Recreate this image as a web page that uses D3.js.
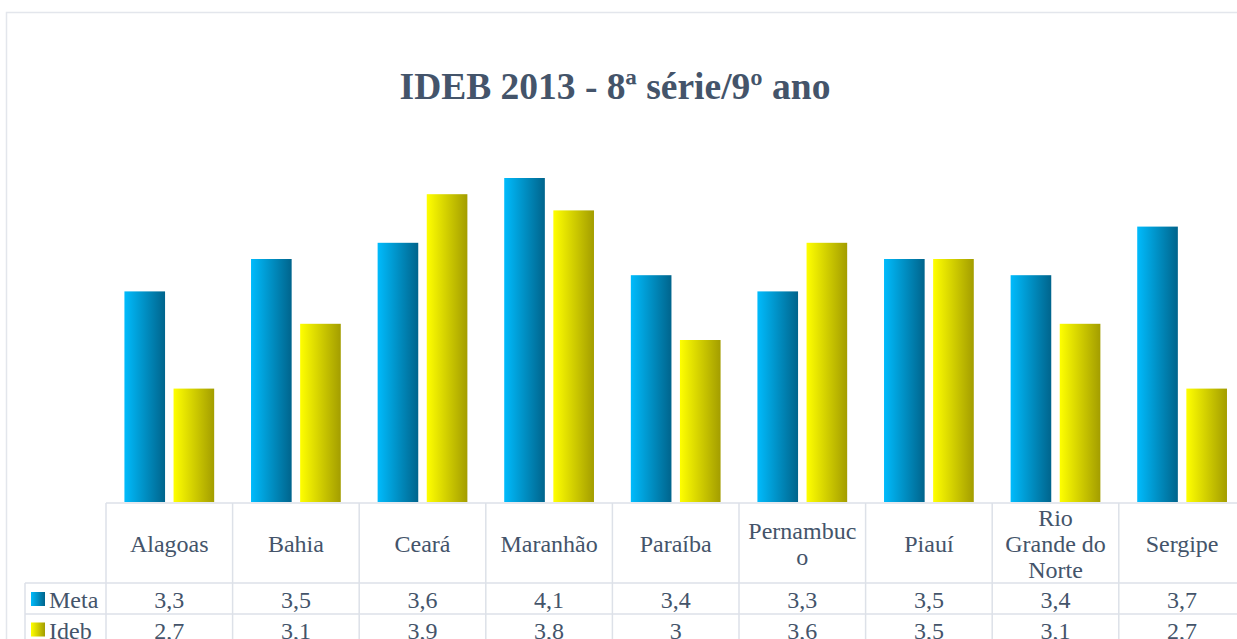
<!DOCTYPE html>
<html>
<head>
<meta charset="utf-8">
<script src="https://cdn.jsdelivr.net/npm/d3@7"></script>
<style>
  body { margin: 0; background: #fff; }
  svg { display: block; }
</style>
</head>
<body>
<div id="chart"></div>
<script>
// data
var categories = ["Alagoas", "Bahia", "Ceará", "Maranhão", "Paraíba", "Pernambuco", "Piauí", "Rio Grande do Norte", "Sergipe"];
var labelLines = [["Alagoas"], ["Bahia"], ["Ceará"], ["Maranhão"], ["Paraíba"], ["Pernambuc", "o"], ["Piauí"], ["Rio", "Grande do", "Norte"], ["Sergipe"]];
var series = ["Meta", "Ideb"];
var meta = [3.3, 3.5, 3.6, 4.1, 3.4, 3.3, 3.5, 3.4, 3.7];
var ideb = [2.7, 3.1, 3.9, 3.8, 3, 3.6, 3.5, 3.1, 2.7];
var valueLabels = [
  ["3,3", "3,5", "3,6", "4,1", "3,4", "3,3", "3,5", "3,4", "3,7"],
  ["2,7", "3,1", "3,9", "3,8", "3", "3,6", "3,5", "3,1", "2,7"]
];

var width = 1237, height = 639;
var textColor = "#44546a",
    gridColor = "#dde1e8",
    font = "'Liberation Serif', 'Times New Roman', serif";

var svg = d3.select("#chart").append("svg")
    .attr("width", width)
    .attr("height", height);

// gradients for the bars (light on the left, dark on the right)
var defs = svg.append("defs");
var grads = [["gMeta", "#00bbfc", "#00648c"], ["gIdeb", "#ffff00", "#a39d00"]];
grads.forEach(function(g){
  var lg = defs.append("linearGradient").attr("id", g[0])
      .attr("x1", "0").attr("y1", "0").attr("x2", "1").attr("y2", "0");
  lg.append("stop").attr("offset", "0").attr("stop-color", g[1]);
  lg.append("stop").attr("offset", "1").attr("stop-color", g[2]);
});

// outer chart border
svg.append("rect")
  .attr("x", 6.5).attr("y", 12.5)
  .attr("width", 1260).attr("height", 700)
  .style("fill", "none")
  .style("stroke", "#e3e6ec")
  .style("stroke-width", 1.5);

// title
svg.append("text")
  .attr("x", 615)
  .attr("y", 99)
  .attr("text-anchor", "middle")
  .text("IDEB 2013 - 8ª série/9º ano")
  .style("font-family", font)
  .style("font-weight", "bold")
  .style("font-size", "37.5px")
  .style("fill", textColor);

// scales
var x = d3.scaleBand()
    .domain(categories)
    .range([106, 1245.4])
    .padding(0);

var xs = d3.scaleBand()
    .domain(series)
    .range([0, x.bandwidth()])
    .paddingInner(0.173)
    .paddingOuter(0.375);

var y = d3.scaleLinear()
    .domain([2, 4])
    .range([502, 178])
    .clamp(true);

var rows = series.map(function(s, i){
  return { name: s, values: i === 0 ? meta : ideb, grad: grads[i][0] };
});

// bars
var groups = svg.selectAll(".series")
    .data(rows)
    .enter().append("g")
    .attr("class", "series");

groups.selectAll("rect")
    .data(function(r){
      return r.values.map(function(v, j){ return { s: r.name, cat: categories[j], v: v, grad: r.grad }; });
    })
    .enter().append("rect")
    .attr("x", function(d){ return x(d.cat) + xs(d.s); })
    .attr("width", xs.bandwidth())
    .attr("y", function(d){ return y(d.v); })
    .attr("height", function(d){ return y(2) - y(d.v); })
    .style("fill", function(d){ return "url(#" + d.grad + ")"; });

// data table
var tableTop = 503, headBottom = 583, rowH = 31;
var table = svg.append("g").attr("class", "table");

// horizontal lines
table.append("line")
  .attr("x1", 106).attr("x2", width).attr("y1", tableTop).attr("y2", tableTop);
[headBottom, headBottom + rowH, headBottom + 2 * rowH].forEach(function(yy){
  table.append("line")
    .attr("x1", 25).attr("x2", width).attr("y1", yy).attr("y2", yy);
});
// vertical lines
table.append("line")
  .attr("x1", 25).attr("x2", 25).attr("y1", headBottom).attr("y2", height);
categories.forEach(function(c){
  table.append("line")
    .attr("x1", x(c)).attr("x2", x(c)).attr("y1", tableTop).attr("y2", height);
});
table.append("line")
  .attr("x1", x.range()[1]).attr("x2", x.range()[1]).attr("y1", tableTop).attr("y2", height);
table.selectAll("line")
  .style("stroke", gridColor)
  .style("stroke-width", 1.5);

// category headers
categories.forEach(function(c, i){
  var lines = labelLines[i];
  var t = table.append("text")
    .attr("text-anchor", "middle")
    .style("font-family", font)
    .style("font-size", "24px")
    .style("fill", textColor);
  lines.forEach(function(l, k){
    t.append("tspan")
      .attr("x", x(c) + x.bandwidth() / 2)
      .attr("y", 552 + (k - (lines.length - 1) / 2) * 26)
      .text(l);
  });
});

// series rows: legend key + values
rows.forEach(function(r, i){
  var base = headBottom + 25 + i * 30.5;
  table.append("rect")
    .attr("x", 31).attr("y", base - 16)
    .attr("width", 14).attr("height", 14)
    .style("fill", "url(#" + r.grad + ")");
  table.append("text")
    .attr("x", 49).attr("y", base)
    .text(r.name)
    .style("font-family", font)
    .style("font-size", "24px")
    .style("fill", textColor);
  categories.forEach(function(c, j){
    table.append("text")
      .attr("x", x(c) + x.bandwidth() / 2)
      .attr("y", base)
      .attr("text-anchor", "middle")
      .text(valueLabels[i][j])
      .style("font-family", font)
      .style("font-size", "24px")
      .style("fill", textColor);
  });
});
</script>
</body>
</html>
